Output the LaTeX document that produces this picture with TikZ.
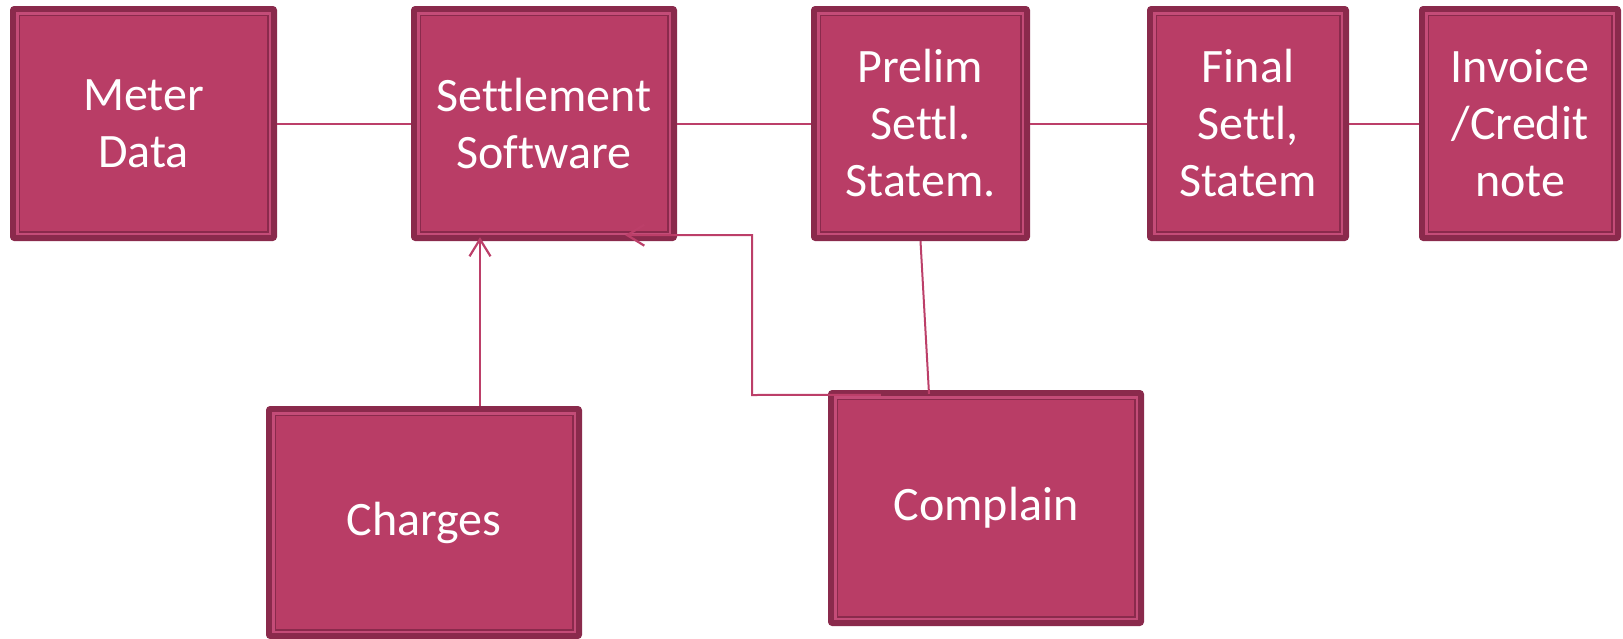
\documentclass[tikz,border=0pt]{standalone}
\usepackage{fontspec}
\setmainfont{Carlito}[Ligatures=CommonOff]
\usetikzlibrary{arrows.meta,calc}
\definecolor{darkc}{HTML}{8A2A4C}
\definecolor{lightc}{HTML}{C44C78}
\definecolor{fillc}{HTML}{B93D66}
\definecolor{linec}{HTML}{BC3F69}
\begin{document}
\begin{tikzpicture}[x=1pt,y=-1pt,
  box/.style={fill=darkc, rounded corners=4pt, text=white, align=center, inner sep=0pt,
    font=\fontsize{48}{57}\selectfont,
    path picture={
      \fill[lightc, sharp corners] ([shift={(6pt,-6pt)}]path picture bounding box.north west) rectangle ([shift={(-6pt,6pt)}]path picture bounding box.south east);
      \fill[darkc, sharp corners] ([shift={(8.5pt,-8.5pt)}]path picture bounding box.north west) rectangle ([shift={(-8.5pt,8.5pt)}]path picture bounding box.south east);
      \fill[fillc, sharp corners] ([shift={(10pt,-10pt)}]path picture bounding box.north west) rectangle ([shift={(-10pt,10pt)}]path picture bounding box.south east);
    }},
  conn/.style={draw=linec, line width=2pt},
  tip/.style={-{Straight Barb[length=17pt,width=21pt,line width=2.2pt]}}
]
\useasboundingbox (0,0) rectangle (1623,638);

\node[box, minimum width=267pt, minimum height=235pt] (meter) at (143.5,123.5) {Meter\\Data};
\node[box, minimum width=266pt, minimum height=235pt] (settle) at (544,123.5) {Settlement\\Software};
\node[box, minimum width=219pt, minimum height=235pt] (prelim) at (920.5,123.5) {Prelim\\Settl.\\Statem.};
\node[box, minimum width=202pt, minimum height=235pt] (final) at (1248,123.5) {Final\\Settl,\\Statem};
\node[box, minimum width=202pt, minimum height=235pt] (invoice) at (1520,123.5) {Invoice\\/Credit\\note};
\node[box, minimum width=316pt, minimum height=233pt] (charges) at (424,522.5) {Charges};
\node[box, minimum width=316pt, minimum height=236pt] (complain) at (986,508) {Complain};

\coordinate (fbA) at (752,395);
\coordinate (fbB) at (752,235);

\draw[conn] (meter) -- (settle);
\draw[conn] (settle) -- (prelim);
\draw[conn] (prelim) -- (final);
\draw[conn] (final) -- (invoice);
\draw[conn] (prelim.south) -- ([shift={(-57pt,-4pt)}]complain.north);
\draw[conn, tip] ([xshift=56pt]charges.north) -- ([shift={(-64pt,4pt)}]settle.south);
\draw[conn, tip] ([shift={(53pt,-5pt)}]complain.north west) -- (fbA) -- (fbB) -- ([shift={(-52pt,6pt)}]settle.south east);
\end{tikzpicture}
\end{document}
